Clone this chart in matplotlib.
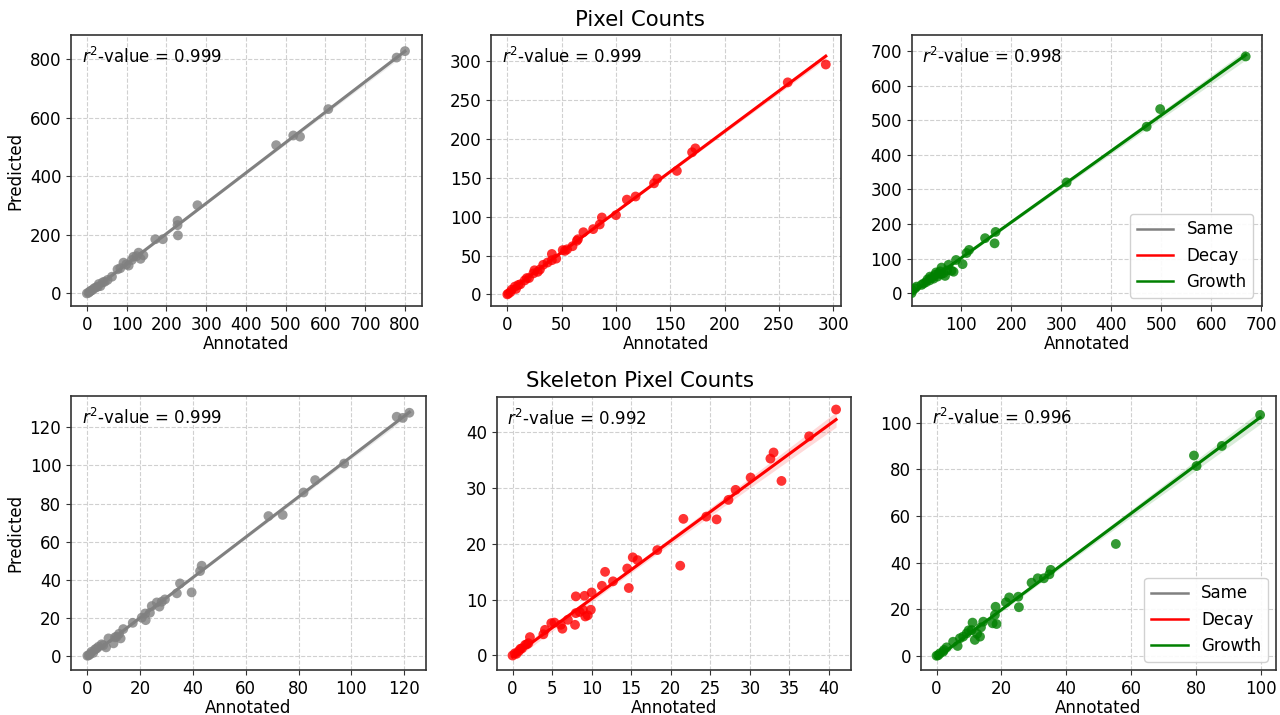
import numpy as np
import matplotlib
matplotlib.use("Agg")
import matplotlib.pyplot as plt
from matplotlib.lines import Line2D
from matplotlib.ticker import MultipleLocator

# Pixel counts -- Same
same_px_x = [800, 779, 607, 536, 519, 476, 278, 228, 228, 229, 191, 172, 142, 130,
             117, 113, 99, 92, 84, 77, 63, 52, 40, 34, 27, 18, 13, 7, 0, 4,
             125, 135, 105, 45, 22, 10, 30]
same_px_y = [827, 805, 629, 535, 539, 506, 301, 248, 233, 198, 185, 185, 130, 139,
             125, 114, 99, 105, 86, 82, 57, 46, 38, 25, 23, 17, 11, 6, 0, 2,
             127, 118, 95, 40, 20, 9, 32]

# Pixel counts -- Decay
decay_px_x = [293, 258, 173, 170, 156, 138, 135, 118, 110, 100, 87, 85, 79, 70, 65,
              64, 55, 51, 41, 41, 37, 33, 30, 25, 24, 18, 16, 10, 7, 4, 1, 0,
              12, 8, 3, 45, 53, 20, 28, 60]
decay_px_y = [296, 273, 188, 183, 159, 149, 143, 126, 122, 102, 99, 90, 84, 80, 71,
              69, 58, 57, 52, 44, 41, 38, 32, 31, 27, 21, 18, 12, 10, 6, 1, 0,
              13, 7, 3, 46, 56, 21, 29, 62]

# Pixel counts -- Growth
growth_px_x = [669, 498, 471, 311, 169, 167, 148, 116, 111, 103, 90, 81, 75, 68, 61,
               58, 53, 48, 38, 37, 30, 21, 11, 8, 3, 1,
               45, 55, 65, 72, 25, 33, 42, 50, 60, 85]
growth_px_y = [684, 532, 481, 320, 177, 144, 159, 125, 116, 84, 96, 65, 82, 50, 74,
               63, 48, 53, 48, 37, 32, 24, 19, 14, 8, 0,
               42, 57, 58, 66, 28, 40, 45, 60, 55, 62]

# Skeleton pixel counts -- Same
same_sk_x = [122, 117.2, 119.5, 97.3, 86.3, 81.9, 74, 68.6, 43.3, 42.7, 39.5, 35.1,
             33.9, 29.4, 28.2, 27.3, 26.3, 24.4, 23.7, 21.9, 22.1, 20.6, 17.2, 13.6,
             12.6, 11.1, 9.9, 8, 7.1, 5.4, 4.2, 2.9, 1.6, 0,
             1, 2.2, 3.5, 6, 10.5, 12, 0.5]
same_sk_y = [127.7, 125.6, 125, 101, 92.3, 85.8, 74, 73.4, 47.3, 44.5, 33.3, 38,
             32.8, 29.6, 28.4, 25.8, 28, 26.1, 22.6, 22.2, 18.7, 20, 17.3, 14,
             9.1, 10, 6.5, 9.1, 4.4, 6, 4.7, 3.3, 2.1, 0,
             0.8, 1.5, 3.8, 5.5, 9.7, 11.5, 0.2]

# Skeleton pixel counts -- Decay
decay_sk_x = [40.9, 37.5, 33.0, 32.6, 34.0, 30.1, 28.2, 27.3, 24.5, 25.8, 21.6, 21.2,
              18.3, 15.2, 15.8, 14.5, 14.7, 12.7, 11.7, 11.3, 10.0, 9.9, 9.1, 9.2,
              8.9, 8.0, 8.0, 7.9, 7.0, 6.3, 6.1, 5.3, 4.9, 4.1, 3.9, 2.2, 2.0, 1.6,
              1.2, 0.8, 0.3, 0, 1.0, 1.8, 0.5, 8.5, 9.5]
decay_sk_y = [44.1, 39.3, 36.4, 35.3, 31.3, 31.9, 29.7, 27.9, 24.9, 24.4, 24.5, 16.1,
              18.9, 17.6, 17.1, 15.6, 12.1, 13.3, 15.0, 12.5, 11.3, 8.2, 10.7, 7.0,
              8.2, 10.6, 7.6, 5.5, 6.4, 4.8, 5.5, 5.9, 5.8, 4.6, 3.8, 3.3, 2.2, 1.9,
              1.3, 0.8, 0.4, 0, 1.2, 2.0, 0.3, 7.8, 7.2]

# Skeleton pixel counts -- Growth
growth_sk_x = [99.8, 88, 79.4, 80.2, 55.3, 35.2, 34.8, 33.1, 31.2, 29.3, 25.2, 25.4,
               22.4, 21.4, 18.2, 18, 18.5, 17.3, 14.4, 13.7, 11.1, 13.4, 11.8, 10.8,
               9.3, 8.2, 7.2, 6.5, 5.1, 3.1, 2.3, 1.0, 0, 12.5, 9.9, 0.5, 2]
growth_sk_y = [103.3, 90, 85.9, 81.4, 48, 36.9, 35, 33.3, 33.3, 31.4, 25.4, 20.9,
               25.1, 23, 21.1, 17.6, 13.7, 14, 14.7, 12.3, 14.3, 8.3, 6.9, 11.1,
               9.7, 8.3, 7.6, 4.3, 6.1, 3.7, 2.6, 1.1, 0.1, 9.5, 11.0, 0.3, 1.8]

r2_labels = ["0.999", "0.999", "0.998", "0.999", "0.992", "0.996"]
groups = ["Same", "Decay", "Growth"]
colors = ["gray", "red", "green"]
row_titles = ["Pixel Counts", "Skeleton Pixel Counts"]

panels = [
    (same_px_x, same_px_y), (decay_px_x, decay_px_y), (growth_px_x, growth_px_y),
    (same_sk_x, same_sk_y), (decay_sk_x, decay_sk_y), (growth_sk_x, growth_sk_y),
]

# axes boxes in pixels (left, right, top, bottom) and axis limits
W, H = 1280, 715
boxes = [
    (71, 421.7, 35, 306), (491, 841, 35, 306), (911.7, 1261.7, 35, 306),
    (71, 426, 396, 670), (496.7, 850.7, 396.7, 670), (921, 1276, 396, 670),
]
limits = [
    ((-40, 842), (-43, 882)), ((-15, 307), (-15, 334)), ((1.3, 701), (-37, 746)),
    ((-6.2, 128.3), (-7.5, 136.5)), ((-2.0, 42.75), (-2.6, 46.4)),
    ((-4.8, 104.7), (-6, 111.4)),
]
x_steps = [100, 50, 100, 20, 5, 20]


def reg_panel(ax, x, y, color):
    """Scatter with least-squares fit and 95% confidence band."""
    x = np.asarray(x, float)
    y = np.asarray(y, float)
    ax.scatter(x, y, s=50, color=color, alpha=0.8, edgecolor="none", zorder=3)
    slope, icpt = np.polyfit(x, y, 1)
    grid = np.linspace(x.min(), x.max(), 100)
    fit = slope * grid + icpt
    resid = y - (slope * x + icpt)
    n = len(x)
    s = np.sqrt(np.sum(resid ** 2) / (n - 2))
    se = s * np.sqrt(1 / n + (grid - x.mean()) ** 2 / np.sum((x - x.mean()) ** 2))
    ax.fill_between(grid, fit - 2.0 * se, fit + 2.0 * se, color=color,
                    alpha=0.15, linewidth=0, zorder=2)
    ax.plot(grid, fit, color=color, lw=2.2, zorder=4)


fig = plt.figure(figsize=(12.8, 7.15), dpi=100)

for i, ((x, y), box, lim) in enumerate(zip(panels, boxes, limits)):
    left, right, top, bottom = box
    ax = fig.add_axes([left / W, 1 - bottom / H, (right - left) / W,
                       (bottom - top) / H])
    reg_panel(ax, x, y, colors[i % 3])
    ax.set_xlim(*lim[0])
    ax.set_ylim(*lim[1])
    ax.xaxis.set_major_locator(MultipleLocator(x_steps[i]))
    ax.grid(True, linestyle="--", color="#d0d0d0", linewidth=0.8, zorder=0)
    ax.set_axisbelow(True)
    for sp in ax.spines.values():
        sp.set_color("#333333")
        sp.set_linewidth(1.2)
    ax.tick_params(labelsize=12, color="#333333")
    ax.set_xlabel("Annotated", fontsize=12, labelpad=1)
    if i % 3 == 0:
        ax.set_ylabel("Predicted", fontsize=12)
    ax.text(0.03, 0.92, "$r^2$-value = " + r2_labels[i], transform=ax.transAxes,
            fontsize=12, va="center", ha="left")
    if i % 3 == 2:
        handles = [Line2D([], [], color=c, lw=1.8) for c in colors]
        ax.legend(handles, groups, loc="lower right", fontsize=12,
                  framealpha=0.9, borderpad=0.4, handlelength=2.2)

fig.text(0.5, 1 - 20 / H, row_titles[0], ha="center", va="center", fontsize=15.3)
fig.text(0.5, 1 - 381 / H, row_titles[1], ha="center", va="center", fontsize=15.3)

fig.savefig("out.png", dpi=100)
